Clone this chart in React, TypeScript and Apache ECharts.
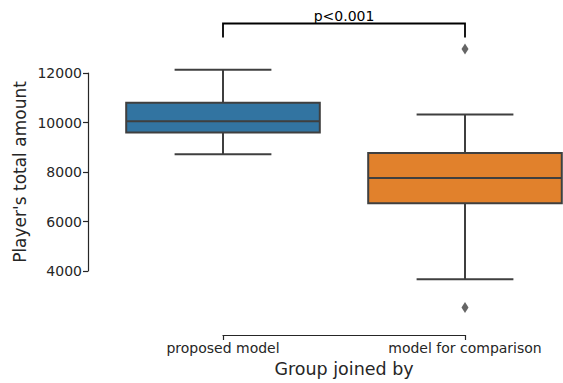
import React, { useEffect, useRef } from "react";
import * as echarts from "echarts";

const categories = ["proposed model", "model for comparison"];
const whiskerLow = [8715, 3670];
const q1 = [9600, 6740];
const median = [10050, 7760];
const q3 = [10800, 8770];
const whiskerHigh = [12130, 10320];
const outliers: [number, number][] = [
  [1, 12970],
  [1, 2530],
];
const bracketEnds = [13430, 13430];
const bracketTop = 14000;
const bracketText = "p<0.001";
const boxColors = ["#3274a1", "#e1812c"];
const yTicks = { min: 4000, max: 12000, interval: 2000 };

const FONT = "DejaVu Sans";
const EDGE = "#3f3f3f";
const INK = "#262626";

export default function App() {
  const ref = useRef<HTMLDivElement>(null);
  useEffect(() => {
    if (!ref.current) return;
    document.body.style.margin = "0";
    const chart = echarts.init(ref.current, undefined, { renderer: "svg" });
    const boxData = categories.map((_, i) => [
      i,
      whiskerLow[i],
      q1[i],
      median[i],
      q3[i],
      whiskerHigh[i],
    ]);
    chart.setOption({
      animation: false,
      backgroundColor: "#ffffff",
      grid: { left: 223, top: 73, width: 242, height: 198 },
      xAxis: {
        type: "category",
        data: categories,
        boundaryGap: false,
        offset: 64,
        axisLine: { lineStyle: { color: INK, width: 1.2 } },
        axisTick: { length: 5, lineStyle: { color: INK, width: 1.2 } },
        axisLabel: { color: INK, fontSize: 14, fontFamily: FONT, margin: 6 },
        name: "Group joined by",
        nameLocation: "middle",
        nameGap: 25,
        nameTextStyle: { color: INK, fontSize: 17.5, fontFamily: FONT },
        splitLine: { show: false },
      },
      yAxis: {
        type: "value",
        min: yTicks.min,
        max: yTicks.max,
        interval: yTicks.interval,
        offset: 135,
        axisLine: { show: true, lineStyle: { color: INK, width: 1.2 } },
        axisTick: { show: true, length: 5, lineStyle: { color: INK, width: 1.2 } },
        axisLabel: {
          color: INK,
          fontSize: 14,
          fontFamily: FONT,
          margin: 6,
          formatter: (v: number) => String(v),
        },
        splitLine: { show: false },
        name: "Player's total amount",
        nameLocation: "middle",
        nameGap: 60,
        nameTextStyle: { color: INK, fontSize: 17, fontFamily: FONT },
      },
      series: [
        {
          type: "custom",
          clip: false,
          data: boxData,
          renderItem: (params: any, api: any) => {
            const i = api.value(0);
            const p0 = api.coord([0, yTicks.min]);
            const p1 = api.coord([1, yTicks.min]);
            const band = Math.abs(p1[0] - p0[0]);
            const bw = band * 0.8;
            const cx = api.coord([i, api.value(3)])[0];
            const yLow = api.coord([i, api.value(1)])[1];
            const yQ1 = api.coord([i, api.value(2)])[1];
            const yMed = api.coord([i, api.value(3)])[1];
            const yQ3 = api.coord([i, api.value(4)])[1];
            const yHigh = api.coord([i, api.value(5)])[1];
            const ls = { stroke: EDGE, lineWidth: 2 };
            return {
              type: "group",
              children: [
                { type: "line", shape: { x1: cx, y1: yQ1, x2: cx, y2: yLow }, style: ls },
                { type: "line", shape: { x1: cx, y1: yQ3, x2: cx, y2: yHigh }, style: ls },
                { type: "line", shape: { x1: cx - bw / 4, y1: yLow, x2: cx + bw / 4, y2: yLow }, style: ls },
                { type: "line", shape: { x1: cx - bw / 4, y1: yHigh, x2: cx + bw / 4, y2: yHigh }, style: ls },
                {
                  type: "rect",
                  shape: { x: cx - bw / 2, y: yQ3, width: bw, height: yQ1 - yQ3 },
                  style: { fill: boxColors[i], stroke: EDGE, lineWidth: 2 },
                },
                { type: "line", shape: { x1: cx - bw / 2, y1: yMed, x2: cx + bw / 2, y2: yMed }, style: ls },
              ],
            };
          },
        },
        {
          type: "scatter",
          clip: false,
          data: outliers,
          symbol: "diamond",
          symbolSize: [7, 11],
          itemStyle: { color: EDGE },
        },
        {
          type: "custom",
          clip: false,
          data: [[0, 1, bracketEnds[0], bracketEnds[1], bracketTop]],
          renderItem: (params: any, api: any) => {
            const a = api.coord([api.value(0), api.value(2)]);
            const b = api.coord([api.value(1), api.value(3)]);
            const ta = api.coord([api.value(0), api.value(4)]);
            const tb = api.coord([api.value(1), api.value(4)]);
            return {
              type: "group",
              children: [
                {
                  type: "polyline",
                  shape: { points: [a, ta, tb, b] },
                  style: { stroke: "#000000", lineWidth: 1.8, fill: null },
                },
                {
                  type: "text",
                  x: (ta[0] + tb[0]) / 2,
                  y: ta[1] - 1,
                  style: {
                    text: bracketText,
                    fill: "#000000",
                    fontSize: 14,
                    fontFamily: FONT,
                    align: "center",
                    verticalAlign: "bottom",
                  },
                },
              ],
            };
          },
        },
      ],
    });
    return () => chart.dispose();
  }, []);
  return <div ref={ref} style={{ width: 563, height: 383 }} />;
}
